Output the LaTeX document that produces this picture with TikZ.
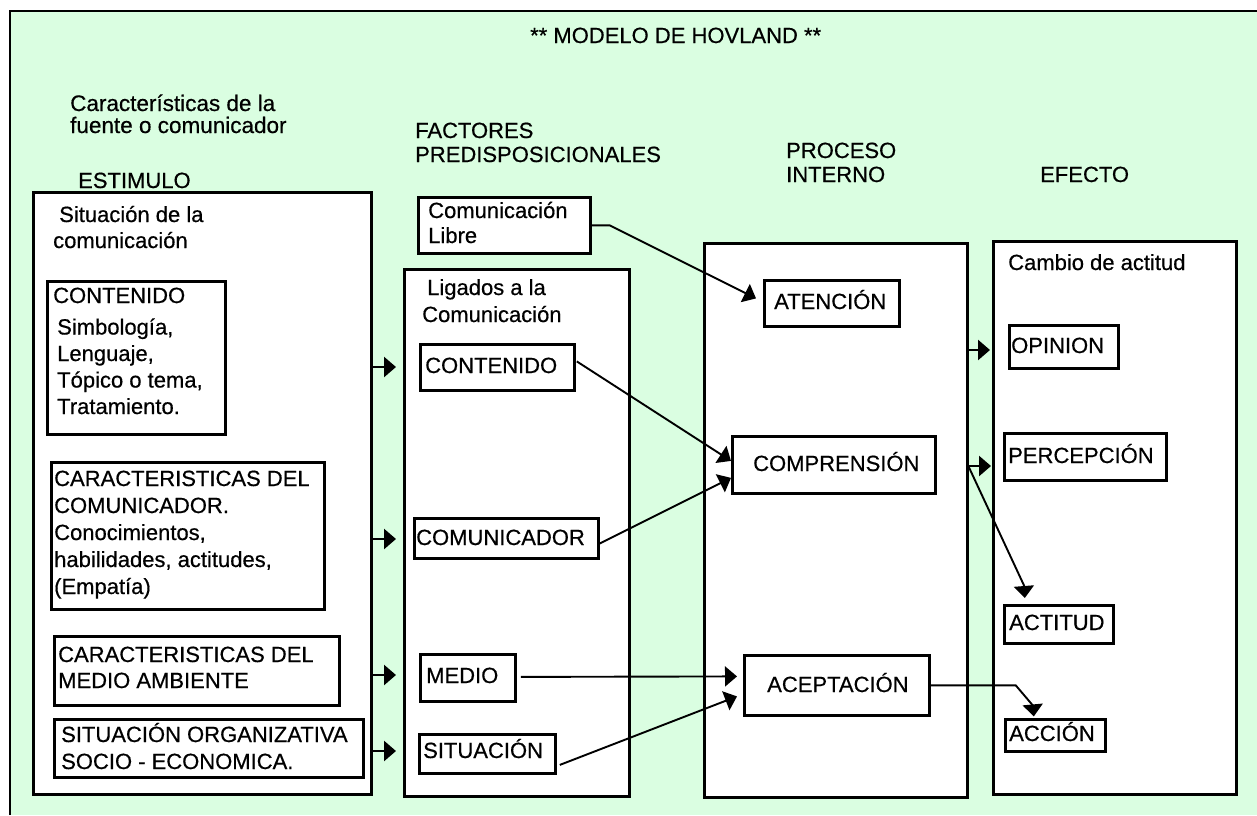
\documentclass[tikz,border=0pt]{standalone}
\usepackage{fontspec}
\setmainfont{Liberation Sans}[FakeBold=0.5]
\usetikzlibrary{arrows.meta}
\definecolor{bg}{RGB}{218,254,225}
\newcommand\bx[5]{\node[box,minimum width=#4pt,minimum height=#5pt] (#1) at (#2,#3) {};}
\begin{document}
\begin{tikzpicture}[x=1pt,y=-1pt,
  box/.style={draw=black, fill=white, line width=2.8pt, inner sep=0pt, anchor=north west},
  txt/.style={inner sep=0pt, anchor=base west, align=left, font=\fontsize{22}{26}\selectfont},
  conn/.style={line width=1.9pt, -{Triangle[length=12pt,width=20pt]}},
  larrow/.style={conn, line width=2.6pt, shorten >=7pt},
]
\useasboundingbox (0,0) rectangle (1257,815);
\fill[white] (0,0) rectangle (1257,815);
\fill[bg] (10,11) rectangle (1257,815);
\draw[line width=2.8pt] (10,815) -- (10,11) -- (1257,11);

% big boxes
\bx{estim}{32}{191}{338}{602}
\bx{lig}{403}{268}{225}{527}
\bx{proc}{703}{242}{263}{554}
\bx{cambio}{992}{240}{243}{553}
% small boxes
\bx{cont1}{46}{280}{178}{153}
\bx{carcom}{50}{461}{273}{147}
\bx{medamb}{53}{635}{285}{69}
\bx{sitorg}{53}{718}{309}{58}
\bx{libre}{417}{196}{172}{56}
\bx{cont2}{419}{343}{154}{46}
\bx{comu2}{413}{517}{184}{40}
\bx{medio}{419}{653}{95}{47}
\bx{sit2}{418}{733}{136}{39}
\bx{aten}{763}{279}{135}{46}
\bx{comp}{731}{435}{203}{57}
\bx{acep}{743}{654}{185}{60}
\bx{opin}{1008}{324}{109}{43}
\bx{perc}{1003}{432}{162}{47}
\bx{actit}{1003}{604}{109}{38}
\bx{accion}{1004}{718}{100}{32}

% connectors
\draw[larrow] (estim.east |- 0,367) -- (lig.west |- 0,367);
\draw[larrow] (estim.east |- 0,539) -- (lig.west |- 0,539);
\draw[larrow] (estim.east |- 0,675) -- (lig.west |- 0,675);
\draw[larrow] (estim.east |- 0,751) -- (lig.west |- 0,751);
\draw[conn] (libre.east) -- ++(18,0) -- ([shift={(-7,-5)}]aten.west);
\draw[conn] ([shift={(1,-6)}]cont2.east) -- ([shift={(0,-4)}]comp.west);
\draw[conn] ([shift={(0,5)}]comu2.east) -- ([shift={(0,13)}]comp.west);
\draw[conn] ([shift={(4,-1)}]medio.east) -- ([shift={(-6,-9)}]acep.west);
\draw[conn] ([shift={(3,11)}]sit2.east) -- ([shift={(-6,11)}]acep.west);
\draw[larrow, shorten >=2pt] (proc.east |- 0,350) -- (cambio.west |- 0,350);
\draw[larrow, shorten >=1pt] (proc.east |- 0,466) -- (cambio.west |- 0,466);
\draw[conn] (proc.east |- 0,467) -- ++(55,118) -- ++(1,13);
\draw[conn] (acep.east) -- ++(85,0) -- ++(17,20) -- ++(1,11);

% texts (base = baseline of the last line)
\node[txt] (title) at (530,43) {** MODELO DE HOVLAND **};
\node[txt, font=\fontsize{22.5}{22}\selectfont] (fuente) at (70,133) {Características de la\\fuente o comunicador};
\node[txt] (estimulo) at (78,188) {ESTIMULO};
\node[txt, font=\fontsize{22}{24}\selectfont] (factores) at (415,162) {FACTORES\\PREDISPOSICIONALES};
\node[txt, font=\fontsize{22}{24}\selectfont] (proceso) at (786,182) {PROCESO\\INTERNO};
\node[txt] (efecto) at (1040,182) {EFECTO};
\node[txt, font=\fontsize{22}{26}\selectfont] (situacion) at (53,248) {\hspace*{6pt}Situación de la\\comunicación};
\node[txt] (cont1h) at (53,303) {CONTENIDO};
\node[txt, font=\fontsize{22}{26.5}\selectfont] (cont1b) at (57,414) {Simbología,\\Lenguaje,\\Tópico o tema,\\Tratamiento.};
\node[txt, font=\fontsize{22}{27}\selectfont] (carcomt) at (54,594) {CARACTERISTICAS DEL\\COMUNICADOR.\\Conocimientos,\\habilidades, actitudes,\\(Empatía)};
\node[txt] (medambt) at (58,688) {CARACTERISTICAS DEL\\MEDIO AMBIENTE};
\node[txt, font=\fontsize{22}{27}\selectfont] (sitorgt) at (61,769) {SITUACIÓN ORGANIZATIVA\\SOCIO - ECONOMICA.};
\node[txt, font=\fontsize{22}{25}\selectfont] (libret) at (428,243) {Comunicación\\Libre};
\node[txt, font=\fontsize{22}{27}\selectfont] (ligt) at (422,322) {\hspace*{5pt}Ligados a la\\Comunicación};
\node[txt] (cont2t) at (425,373) {CONTENIDO};
\node[txt] (comu2t) at (416,545) {COMUNICADOR};
\node[txt] (mediot) at (426,683) {MEDIO};
\node[txt] (sit2t) at (423,758) {SITUACIÓN};
\node[txt] (atent) at (774,309) {ATENCIÓN};
\node[txt] (compt) at (753,471) {COMPRENSIÓN};
\node[txt] (acept) at (767,692) {ACEPTACIÓN};
\node[txt] (cambiot) at (1008,270) {Cambio de actitud};
\node[txt] (opint) at (1011,353) {OPINION};
\node[txt] (perct) at (1008,463) {PERCEPCIÓN};
\node[txt] (actitt) at (1009,630) {ACTITUD};
\node[txt] (acciont) at (1009,741) {ACCIÓN};
\end{tikzpicture}
\end{document}
